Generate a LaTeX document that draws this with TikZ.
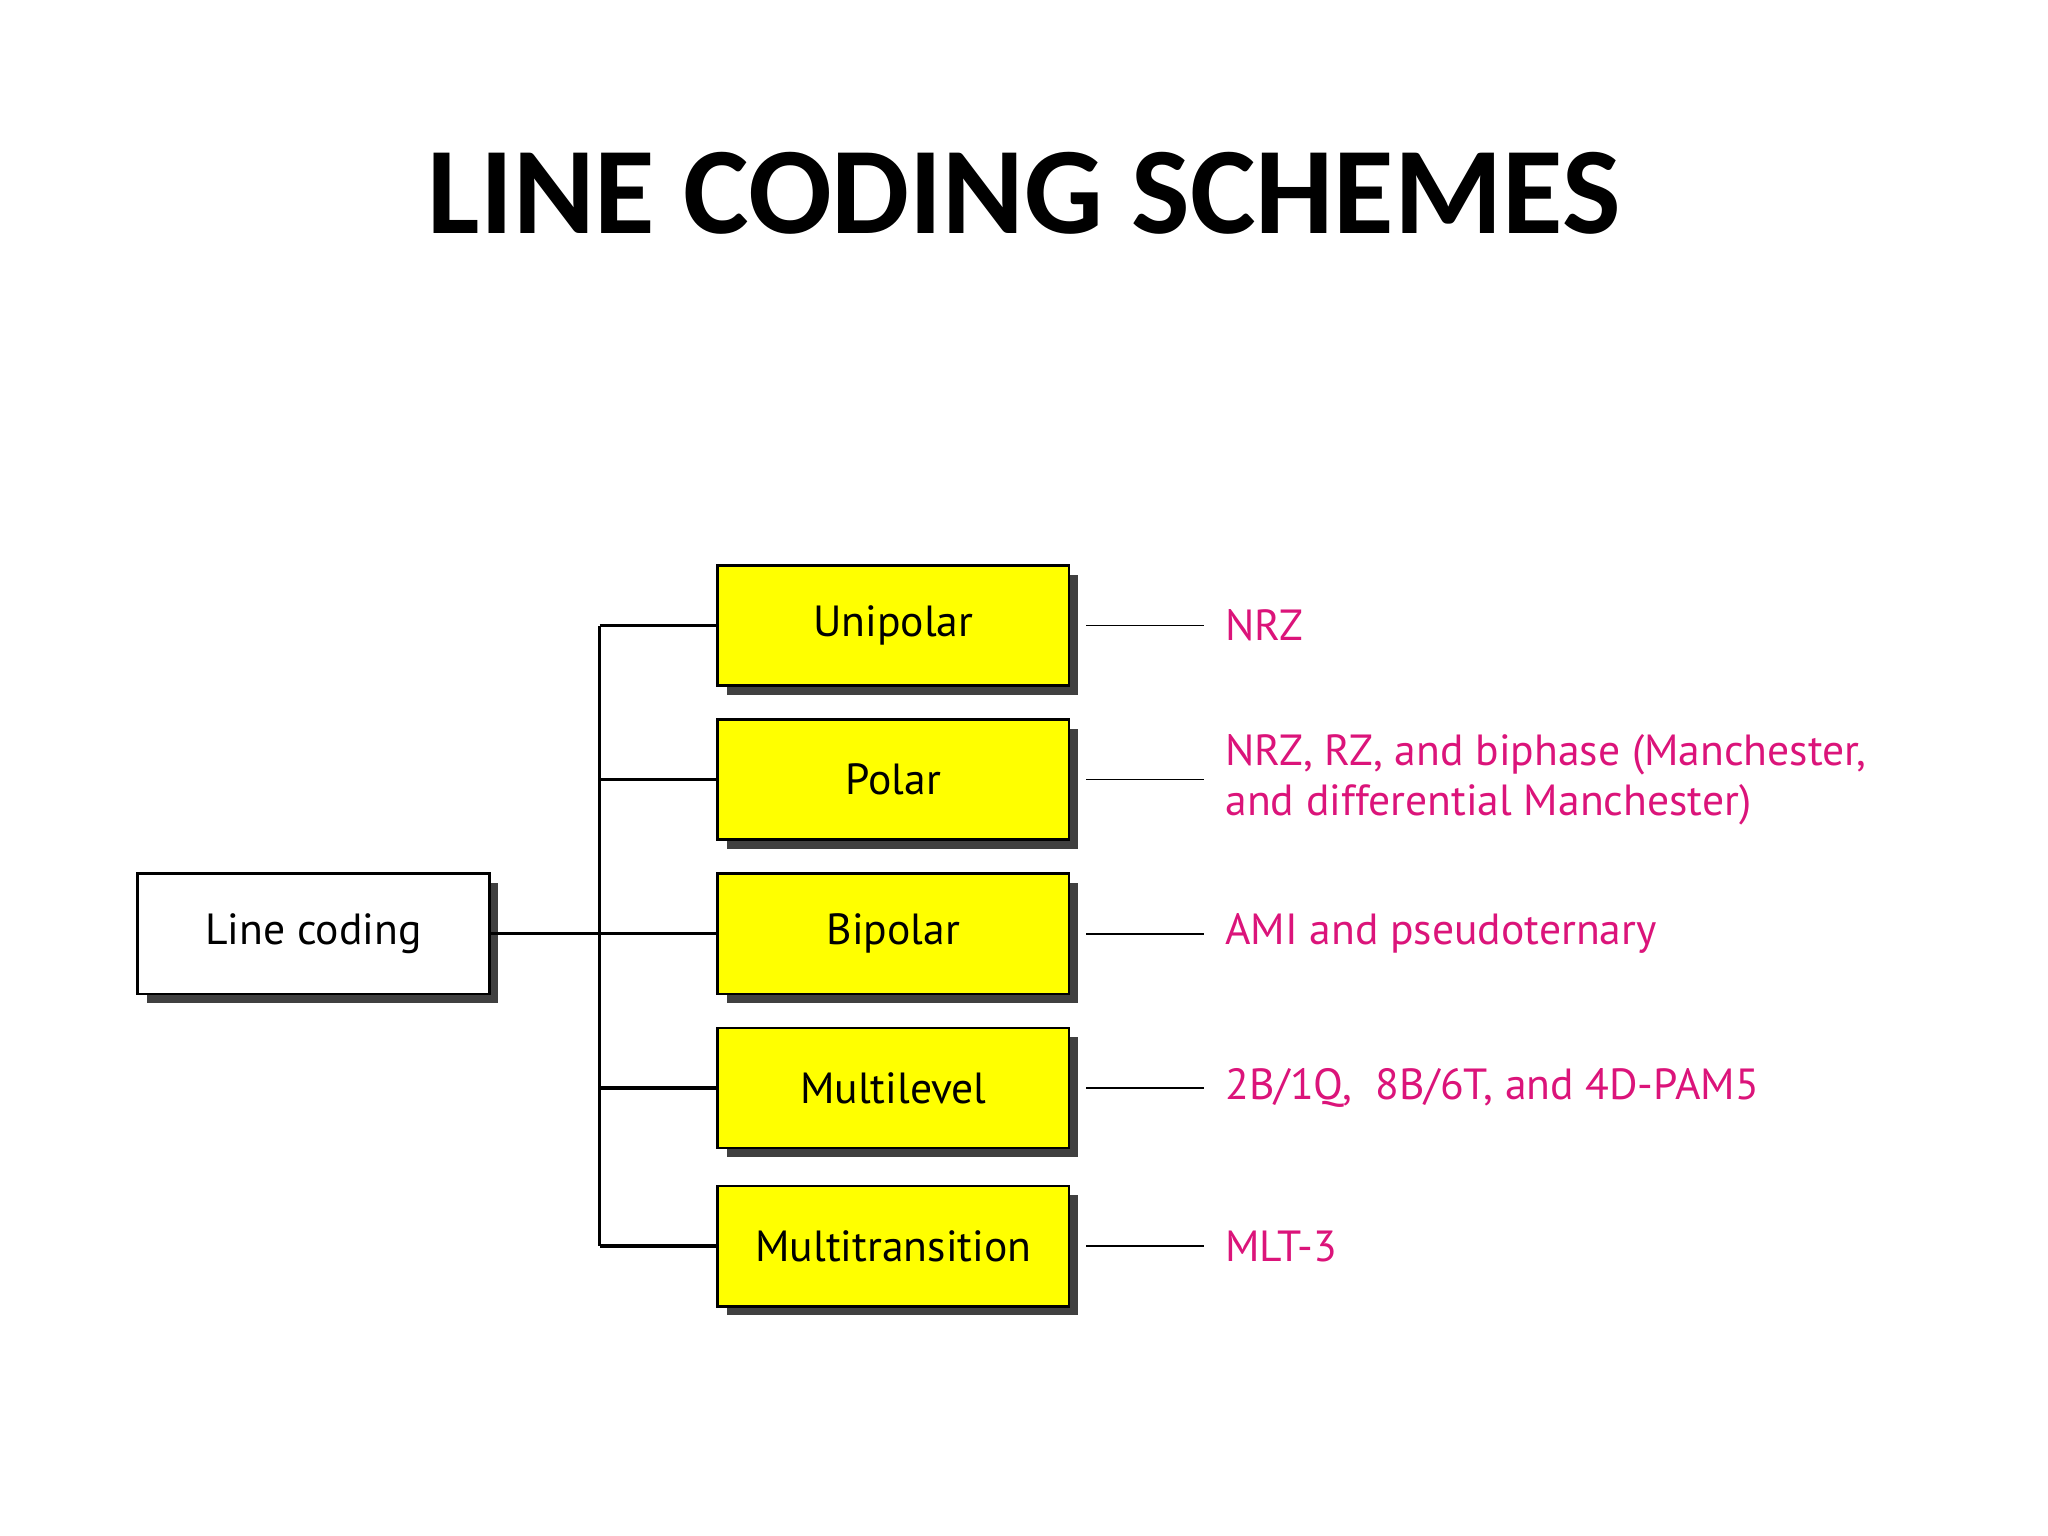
\documentclass[tikz,border=0pt]{standalone}
\usepackage{fontspec}
\setmainfont{PT Sans}
\newfontfamily\titlefont{Carlito}
\usetikzlibrary{shadows}
\definecolor{boxyellow}{rgb}{1,1,0}
\definecolor{schemepink}{rgb}{.86,.08,.48}

\tikzset{
  box/.style={draw, line width=1.2pt, minimum width=269*0.02cm, minimum height=92*0.02cm,
    inner sep=0pt, font=\fontsize{19}{22}\selectfont,
    drop shadow={shadow xshift=4pt, shadow yshift=-4pt, fill=black!75, opacity=1}},
  scheme/.style={box, fill=boxyellow},
  wire/.style={line width=1.4pt},
  thin wire/.style={line width=.6pt},
  label/.style={anchor=west, align=left, text=schemepink, font=\fontsize{19}{22}\selectfont}
}

\begin{document}
\begin{tikzpicture}[x=0.02cm, y=-0.02cm]
\useasboundingbox (0,0) rectangle (1568,1176);

\node[font=\titlefont\bfseries\fontsize{54}{60}\selectfont] (title) at (784,148) {LINE CODING SCHEMES};

\node[box, fill=white] (lc) at (240,715) {Line coding};

\node[scheme] (uni) at (684,479) {Unipolar};
\node[scheme] (pol) at (684,597) {Polar};
\node[scheme] (bip) at (684,715) {Bipolar};
\node[scheme] (mlv) at (684,833) {Multilevel};
\node[scheme] (mtr) at (684,954) {Multitransition};

\coordinate (bustop) at (459,479);
\coordinate (busbot) at (459,954);
\draw[wire] (lc.east) -- (bip.west);
\draw[wire] (bustop) -- (busbot);
\foreach \n in {uni,pol,mlv,mtr}
  \draw[wire] (459,0 |- \n.west) -- (\n.west);

% right-hand labels
\node[label] (tuni) at (932,479) {NRZ};
\node[label] (tpol) at (932,597) {NRZ, RZ, and biphase (Manchester,\\and differential Manchester)};
\node[label] (tbip) at (932,715) {AMI and pseudoternary};
\node[label] (tmlv) at (932,833) {2B/1Q,\ \ 8B/6T, and 4D-PAM5};
\node[label] (tmtr) at (932,954) {MLT-3};

\foreach \n in {uni,pol,bip,mlv,mtr}
  \draw[thin wire] ([xshift=12*0.02cm]\n.east) -- (922,0 |- \n.east);
\end{tikzpicture}
\end{document}
